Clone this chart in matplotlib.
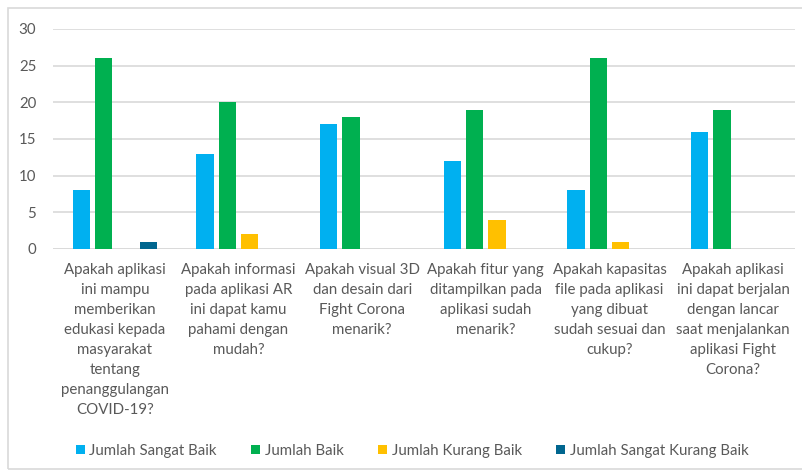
import numpy as np
import matplotlib.pyplot as plt
from matplotlib.patches import Rectangle

plt.rcParams['font.family'] = ['Lato', 'DejaVu Sans']

# questions (x categories)
categories = [
    "Apakah aplikasi\nini mampu\nmemberikan\nedukasi kepada\nmasyarakat\ntentang\npenanggulangan\nCOVID-19?",
    "Apakah informasi\npada aplikasi AR\nini dapat kamu\npahami dengan\nmudah?",
    "Apakah visual 3D\ndan desain dari\nFight Corona\nmenarik?",
    "Apakah fitur yang\nditampilkan pada\naplikasi sudah\nmenarik?",
    "Apakah kapasitas\nfile pada aplikasi\nyang dibuat\nsudah sesuai dan\ncukup?",
    "Apakah aplikasi\nini dapat berjalan\ndengan lancar\nsaat menjalankan\naplikasi Fight\nCorona?",
]

sangat_baik = [8, 13, 17, 12, 8, 16]
baik = [26, 20, 18, 19, 26, 19]
kurang_baik = [0, 2, 0, 4, 1, 0]
sangat_kurang_baik = [1, 0, 0, 0, 0, 0]

series_names = ["Jumlah Sangat Baik", "Jumlah Baik", "Jumlah Kurang Baik", "Jumlah Sangat Kurang Baik"]
colors = ["#00B0F0", "#00B050", "#FFC000", "#00668F"]

fig = plt.figure(figsize=(8.03, 4.76), dpi=100)
ax = fig.add_axes([53/803, 1 - 249/476, 742/803, 220/476])

# outer chart border
fig.patches.append(Rectangle((8/803, 7/476), 800/803, 461/476, transform=fig.transFigure,
                             fill=False, edgecolor="#D9D9D9", linewidth=1.2))

x = np.arange(len(categories))
slot = 0.18
width = 0.14
all_series = [sangat_baik, baik, kurang_baik, sangat_kurang_baik]
for i, (vals, name, c) in enumerate(zip(all_series, series_names, colors)):
    ax.bar(x + (i - 1.5) * slot, vals, width, color=c, label=name, zorder=3)

ax.set_xlim(-0.5, len(categories) - 0.5)
ax.set_ylim(0, 30)
ax.set_yticks(range(0, 31, 5))
ax.yaxis.grid(True, color="#D9D9D9", linewidth=1.2, zorder=0)
ax.set_xticks(x)
ax.set_xticklabels(categories, fontsize=10.8, color="#595959", linespacing=1.55)
ax.tick_params(axis='y', labelsize=10.8, labelcolor="#595959", length=0, pad=12)
ax.tick_params(axis='x', length=0, pad=10)
for s in ax.spines.values():
    s.set_visible(False)
ax.axhline(0, color="#D9D9D9", linewidth=1.2, zorder=1)

fig.legend(loc='center', bbox_to_anchor=(412/803, 1 - 451/476), ncol=4, frameon=False,
           fontsize=10.8, labelcolor="#595959", handlelength=0.6, handleheight=0.6,
           handletextpad=0.3, columnspacing=2.3)

fig.savefig("out.png", dpi=100)
